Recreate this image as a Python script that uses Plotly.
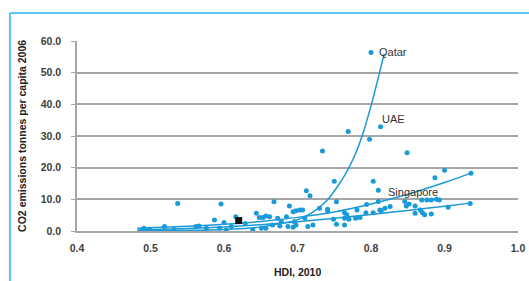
import plotly.graph_objects as go

# Scatter data: HDI 2010 vs CO2 emissions per capita 2006
hdi = [0.800, 0.813, 0.769, 0.798, 0.734, 0.849, 0.900, 0.936, 0.887, 0.750, 0.803,
       0.810, 0.712, 0.717, 0.668, 0.689, 0.753, 0.730, 0.741, 0.741, 0.794, 0.810,
       0.826, 0.846, 0.852, 0.848, 0.860, 0.869, 0.876, 0.882, 0.889, 0.893, 0.905,
       0.935, 0.867, 0.860, 0.870, 0.873, 0.882, 0.812, 0.764, 0.767, 0.764, 0.749,
       0.753, 0.764, 0.770, 0.781, 0.779, 0.785, 0.793, 0.803, 0.814, 0.819, 0.653,
       0.662, 0.673, 0.678, 0.685, 0.694, 0.698, 0.703, 0.707, 0.696, 0.698, 0.694,
       0.687, 0.676, 0.666, 0.657, 0.714, 0.721, 0.710, 0.537, 0.596, 0.587, 0.600,
       0.616, 0.644, 0.657, 0.629, 0.610, 0.594, 0.576, 0.562, 0.566, 0.532, 0.519,
       0.498, 0.489, 0.491, 0.500, 0.639, 0.651, 0.603, 0.648]
co2 = [56.4, 32.9, 31.4, 29.0, 25.3, 24.7, 19.2, 18.2, 16.8, 15.7, 15.7,
       12.9, 12.7, 11.1, 9.2, 7.9, 9.2, 7.2, 6.9, 6.3, 8.4, 9.3,
       7.7, 9.3, 8.5, 7.9, 7.9, 9.8, 9.8, 9.8, 10.0, 9.8, 7.5,
       8.7, 6.6, 5.6, 5.8, 5.1, 5.4, 6.6, 5.8, 5.1, 4.0, 3.7,
       2.1, 1.9, 3.7, 6.6, 4.0, 4.3, 5.8, 5.8, 6.4, 7.2, 4.3,
       4.5, 4.0, 2.9, 4.5, 6.1, 6.4, 6.6, 6.6, 2.9, 1.9, 1.2,
       1.4, 1.6, 1.9, 0.9, 1.4, 1.9, 4.0, 8.7, 8.5, 3.5, 2.7,
       4.5, 5.6, 4.7, 2.4, 1.4, 0.9, 0.9, 1.4, 1.6, 0.5, 1.4,
       0.5, 0.3, 0.9, 0.1, 0.3, 0.9, 0.3, 4.3]

# Highlighted point (black square)
hl_hdi = [0.62]
hl_co2 = [3.3]

# Trend lines
exp_hdi = [0.482, 0.55, 0.60, 0.65, 0.70, 0.72, 0.74, 0.76, 0.77, 0.78, 0.79, 0.80, 0.81, 0.818]
exp_co2 = [0.1, 0.2, 0.5, 1.3, 3.6, 5.8, 9.6, 16.0, 20.0, 25.0, 31.5, 39.5, 48.5, 56.0]
up_hdi = [0.482, 0.55, 0.60, 0.65, 0.70, 0.75, 0.80, 0.85, 0.90, 0.935]
up_co2 = [0.9, 1.5, 2.1, 3.0, 4.3, 6.0, 8.5, 11.6, 15.3, 18.2]
lo_hdi = [0.482, 0.55, 0.60, 0.65, 0.70, 0.75, 0.80, 0.85, 0.90, 0.935]
lo_co2 = [0.3, 0.8, 1.3, 2.0, 2.9, 4.0, 5.2, 6.5, 7.8, 8.8]

# Labels
lab_text = ["Qatar", "UAE", "Singapore"]
lab_hdi = [0.808, 0.831, 0.857]
lab_co2 = [56.6, 35.3, 12.4]
lab_anchor = ["left", "center", "center"]

x_ticks = [0.4, 0.5, 0.6, 0.7, 0.8, 0.9, 1.0]
y_ticks = [0, 10, 20, 30, 40, 50, 60]

BLUE = "#1a9ad8"
FONT = "Liberation Sans, Arial, sans-serif"

fig = go.Figure()
for xs, ys in [(exp_hdi, exp_co2), (up_hdi, up_co2), (lo_hdi, lo_co2)]:
    fig.add_trace(go.Scatter(x=xs, y=ys, mode="lines", line=dict(color=BLUE, width=1.5, shape="spline"),
                             hoverinfo="skip", showlegend=False))
fig.add_trace(go.Scatter(x=hdi, y=co2, mode="markers", marker=dict(color=BLUE, size=5),
                         showlegend=False))
fig.add_trace(go.Scatter(x=hl_hdi, y=hl_co2, mode="markers",
                         marker=dict(color="#111111", size=7, symbol="square"), showlegend=False))

for t, x, y, a in zip(lab_text, lab_hdi, lab_co2, lab_anchor):
    fig.add_annotation(x=x, y=y, text=t, showarrow=False, xanchor=a, yanchor="middle",
                       font=dict(family=FONT, size=11, color="#333333"))

# Axis titles
fig.add_annotation(xref="paper", yref="paper", x=0.5, y=-0.215, text="HDI, 2010", showarrow=False,
                   xanchor="center", yanchor="middle",
                   font=dict(family=FONT, size=10.5, color="#222222", weight="bold"))
fig.add_annotation(xref="paper", yref="paper", x=-0.125, y=0.5, text="CO2 emissions tonnes per capita 2006",
                   showarrow=False, textangle=-90, xanchor="center", yanchor="middle",
                   font=dict(family=FONT, size=10.5, color="#222222", weight="bold"))

# Light blue frame
BORDER = "#5cc6f0"
fig.add_shape(type="line", xref="paper", yref="paper", x0=-0.152, x1=1.1, y0=1.147, y1=1.147,
              line=dict(color=BORDER, width=2))
fig.add_shape(type="line", xref="paper", yref="paper", x0=-0.152, x1=-0.152, y0=1.147, y1=-0.4,
              line=dict(color=BORDER, width=2))

fig.update_layout(
    width=529, height=281,
    margin=dict(l=77, r=11, t=41, b=50),
    paper_bgcolor="white", plot_bgcolor="white",
    font=dict(family=FONT),
    xaxis=dict(range=[0.4, 1.0], tickvals=x_ticks, tickformat=".1f", showgrid=False,
               showline=True, linecolor="#a6a6a6", linewidth=1.5, zeroline=False,
               ticks="", ticklabelstandoff=7, automargin=False,
               tickfont=dict(family=FONT, size=10.5, color="#404040", weight="bold")),
    yaxis=dict(range=[0, 60], tickvals=y_ticks, tickformat=".1f", showgrid=True,
               gridcolor="#a6a6a6", gridwidth=1.5, showline=True, linecolor="#a6a6a6",
               linewidth=1.5, zeroline=False, ticks="outside", ticklen=4, tickcolor="#a6a6a6",
               ticklabelstandoff=8, automargin=False,
               tickfont=dict(family=FONT, size=10.5, color="#404040", weight="bold")),
)

# Remove the default page margin so the figure fills the window exactly
fig.write_html(
    "out.html",
    config={"displayModeBar": False},
    post_script="document.body.style.margin='0';document.body.style.overflow='hidden';"
                "document.documentElement.style.overflow='hidden';",
)
